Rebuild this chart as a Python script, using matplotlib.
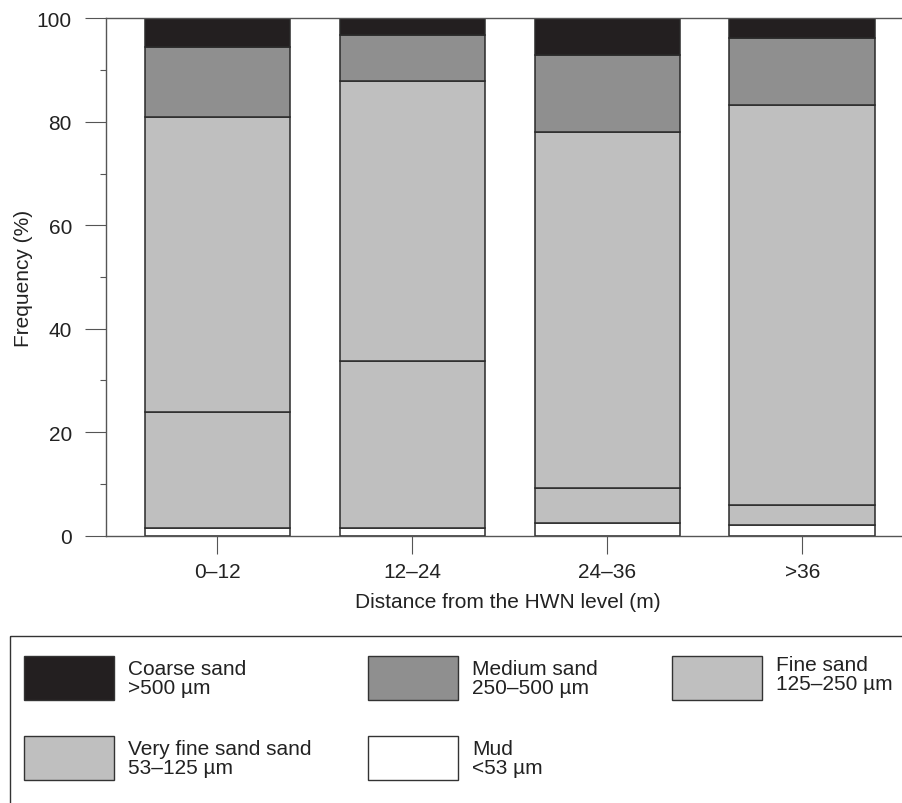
import numpy as np
import matplotlib.pyplot as plt
from matplotlib.patches import Rectangle

plt.rcParams['font.family'] = ['Liberation Sans', 'DejaVu Sans']

# Dane (procent frakcji w kazdej strefie)
zones = ["0\u201312", "12\u201324", "24\u201336", ">36"]
mud = [1.4, 1.4, 2.5, 2.0]
very_fine = [22.6, 32.4, 6.7, 3.9]
fine = [56.9, 54.1, 68.9, 77.3]
medium = [13.6, 8.9, 14.9, 13.0]
coarse = [5.5, 3.2, 7.0, 3.8]

names = ["Coarse sand\n>500 \u00b5m", "Medium sand\n250\u2013500 \u00b5m",
         "Fine sand\n125\u2013250 \u00b5m", "Very fine sand sand\n53\u2013125 \u00b5m",
         "Mud\n<53 \u00b5m"]
colors = ["#231f20", "#8f8f8f", "#bfbfbf", "#bfbfbf", "#ffffff"]
edge = "#2a2a2a"
fs = 15

W, H = 902, 804
fig = plt.figure(figsize=(W / 100, H / 100), dpi=100)

# os: lewo 105.7 px, gora 19.3 px, dol 536.7 px
left, right, top, bottom = 105.7, 910.0, 19.3, 536.7
ax = fig.add_axes([left / W, (H - bottom) / H, (right - left) / W, (bottom - top) / H])

x = np.arange(len(zones))
width = 0.747
stack = [(mud, colors[4]), (very_fine, colors[3]), (fine, colors[2]),
         (medium, colors[1]), (coarse, colors[0])]
base = np.zeros(len(zones))
for vals, c in stack:
    ax.bar(x, vals, width, bottom=base, color=c, edgecolor=edge, linewidth=1.1, zorder=2)
    base += np.array(vals)

ax.set_xlim(-0.5736, 3.553)
ax.set_ylim(0, 100)
ax.set_xticks(x)
ax.set_xticklabels(zones)
ax.set_yticks(np.arange(0, 101, 20))
ax.set_yticks(np.arange(10, 100, 20), minor=True)

spine_c = "#555555"
for s in ["left", "bottom", "top"]:
    ax.spines[s].set_color(spine_c)
    ax.spines[s].set_linewidth(1.0)
ax.spines["right"].set_visible(False)

ax.tick_params(axis="y", which="major", length=14.9, width=0.8, color=spine_c,
               labelsize=fs, pad=9.4, labelcolor="#222222")
ax.tick_params(axis="y", which="minor", length=4.3, width=0.8, color=spine_c)
ax.tick_params(axis="x", which="major", length=12.7, width=0.8, color=spine_c,
               labelsize=fs, pad=6, labelcolor="#222222")

ax.set_ylabel("Frequency (%)", fontsize=fs, color="#222222")
ax.yaxis.set_label_coords(-0.09, 0.5)
ax.set_xlabel("Distance from the HWN level (m)", fontsize=fs, color="#222222", labelpad=8)

# Legenda rysowana recznie w pikselach
lax = fig.add_axes([0, 0, 1, 1])
lax.set_xlim(0, W)
lax.set_ylim(H, 0)
lax.axis("off")
lax.add_patch(Rectangle((10, 637), 920, 200, fill=False, edgecolor="#333333", linewidth=1.0))

pw, ph = 90, 44
slots = [(24, 657), (368, 657), (672, 657), (24, 737), (368, 737)]
for (px, py), name, c in zip(slots, names, colors):
    lax.add_patch(Rectangle((px, py), pw, ph, facecolor=c, edgecolor="#333333", linewidth=1.0))
    dy = -4 if px == 672 else 0
    lax.text(px + pw + 14, py + ph / 2 + dy, name, fontsize=fs, color="#222222",
             va="center", ha="left", linespacing=1.0)

fig.savefig("out.png", dpi=100)
